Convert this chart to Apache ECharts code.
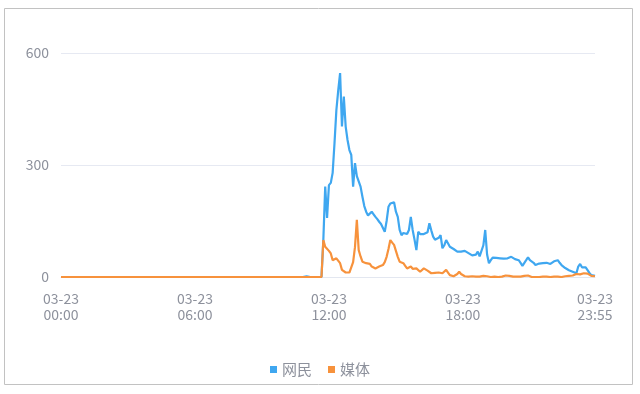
<!DOCTYPE html>
<html>
<head>
<meta charset="utf-8">
<script src="https://cdn.jsdelivr.net/npm/echarts@6/dist/echarts.min.js"></script>
<style>
html,body{margin:0;padding:0;background:#fff;}
#c{width:640px;height:394px;}
</style>
</head>
<body>
<div id="c"></div>
<script>
// time categories, 5-minute steps through one day
var dateLabel = "03-23";
var times = [];
for (var h = 0; h < 24; h++) {
  for (var m = 0; m < 60; m += 5) {
    times.push((h < 10 ? "0" : "") + h + ":" + (m < 10 ? "0" : "") + m);
  }
}
var yTicks = [0, 300, 600];
var seriesNames = ["网民", "媒体"];

// 网民 values (index 0..287)
var netizen = [
0,0,0,0,0,0,0,0,0,0, 0,0,0,0,0,0,0,0,0,0,
0,0,0,0,0,0,0,0,0,0, 0,0,0,0,0,0,0,0,0,0,
0,0,0,0,0,0,0,0,0,0, 0,0,0,0,0,0,0,0,0,0,
0,0,0,0,0,0,0,0,0,0, 0,0,0,0,0,0,0,0,0,0,
0,0,0,0,0,0,0,0,0,0, 0,0,0,0,0,0,0,0,0,0,
0,0,0,0,0,0,0,0,0,0, 0,0,0,0,0,0,0,0,0,0,
0,0,0,0,0,0,0,0,0,0, 0,3,2,0,0,0,0,0,0,0,
0,100,242,158,246,252,279,359,447,500,
546,403,483,403,367,340,327,242,305,270,
269,242,215,190,175,165,161,175,168,161,
155,148,142,139,121,150,188,197,202,200,
175,161,126,112,118,121,115,126,161,126,
100,72,121,115,112,115,117,120,144,125,
108,100,95,105,112,77,85,99,95,81,
78,75,72,68,63,68,72,70,66,64,
62,58,54,60,68,55,50,85,126,60,
37,45,52,50,51,48,50,52,49,51,
50,52,54,50,48,46,45,38,30,25,
45,53,45,41,38,32,35,36,37,37,
36,38,35,35,38,42,47,45,38,32,
28,24,20,18,16,14,12,10,28,35,
26,23,26,22,11,5,4,3
];

// 媒体 values (index 0..287)
var media = [
0,0,0,0,0,0,0,0,0,0, 0,0,0,0,0,0,0,0,0,0,
0,0,0,0,0,0,0,0,0,0, 0,0,0,0,0,0,0,0,0,0,
0,0,0,0,0,0,0,0,0,0, 0,0,0,0,0,0,0,0,0,0,
0,0,0,0,0,0,0,0,0,0, 0,0,0,0,0,0,0,0,0,0,
0,0,0,0,0,0,0,0,0,0, 0,0,0,0,0,0,0,0,0,0,
0,0,0,0,0,0,0,0,0,0, 0,0,0,0,0,0,0,0,0,0,
0,0,0,0,0,0,0,0,0,0, 0,0,0,0,0,0,0,0,0,0,
0,99,81,80,70,63,45,41,50,45,
37,19,14,12,10,12,14,40,80,153,
72,55,41,38,37,41,35,28,25,23,
26,28,30,32,40,54,75,99,92,86,
81,54,41,40,37,30,23,25,28,22,
19,23,20,14,18,23,20,17,14,10,
10,11,12,12,14,10,14,19,12,5,
3,2,3,8,14,8,3,2,2,1,
1,2,1,1,2,1,1,3,6,2,
1,0,1,1,1,0,1,1,2,4,
6,3,1,1,0,1,1,1,2,3,
6,4,1,0,1,0,1,0,1,1,
0,1,1,0,2,1,0,1,1,0,
1,2,1,3,5,4,6,8,10,7,
9,10,8,9,5,3,2,2
];

var chart = echarts.init(document.getElementById('c'), null, {renderer: 'canvas'});
var labelColor = '#8d919c';
chart.setOption({
  animation: false,
  color: ['#3fa7f0', '#f7923c'],
  graphic: [{
    type: 'rect',
    shape: {x: 4.5, y: 8.5, width: 628, height: 376},
    style: {fill: 'none', stroke: '#c2c2c2', lineWidth: 1},
    silent: true
  }],
  legend: {
    data: seriesNames,
    bottom: 12,
    left: 'center',
    icon: 'rect',
    itemWidth: 7,
    itemHeight: 7,
    itemGap: 16,
    textStyle: {color: '#8d919c', fontSize: 15, fontFamily: 'Noto Sans CJK SC'}
  },
  grid: {left: 61, right: 45, top: 53, bottom: 117},
  xAxis: {
    type: 'category',
    boundaryGap: false,
    data: times,
    axisLine: {lineStyle: {color: '#e3e7f0'}},
    axisTick: {show: false},
    axisLabel: {
      color: labelColor,
      fontSize: 14,
      lineHeight: 16,
      margin: 14,
      fontFamily: 'Noto Sans CJK SC',
      interval: function (idx) { return idx % 72 === 0 || idx === times.length - 1; },
      formatter: function (v) { return dateLabel + "\n" + v; }
    }
  },
  yAxis: {
    type: 'value',
    min: yTicks[0],
    max: yTicks[yTicks.length - 1],
    interval: yTicks[1] - yTicks[0],
    axisLine: {show: false},
    axisTick: {show: false},
    splitLine: {lineStyle: {color: '#e6e9f2'}},
    axisLabel: {color: labelColor, fontSize: 14, margin: 12, fontFamily: 'Noto Sans CJK SC'}
  },
  series: [
    {name: seriesNames[0], type: 'line', data: netizen, showSymbol: false, lineStyle: {width: 2.2}},
    {name: seriesNames[1], type: 'line', data: media, showSymbol: false, lineStyle: {width: 2.2}}
  ]
});
</script>
</body>
</html>
